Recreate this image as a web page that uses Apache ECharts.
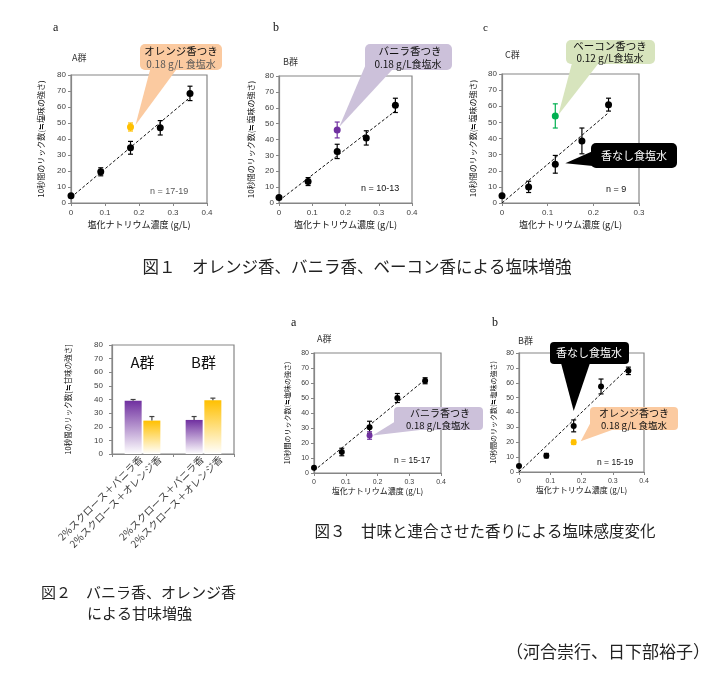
<!DOCTYPE html>
<html><head><meta charset="utf-8">
<script src="https://cdn.jsdelivr.net/npm/echarts@6/dist/echarts.min.js"></script>
<style>html,body{margin:0;padding:0;background:#fff}#c{width:728px;height:675px}</style>
</head><body><div id="c"></div>
<script>
// ---------- data ----------
const saltX   = [0, 0.0875, 0.175, 0.2625, 0.35];
const saltXC  = [0, 0.0583, 0.1167, 0.175, 0.2333];
// Fig1 a (A群)
const f1aY = [4.5, 19.5, 34.5, 47, 68.5];
const f1aErr = [0, 2.5, 4, 4.5, 4.5];
const f1aOrange = [0.175, 47.5]; const f1aOrangeErr = 2.5;
const f1aTrend = [[0, 3.5], [0.35, 66]];
// Fig1 b (B群)
const f1bY = [3.5, 13.5, 32.5, 41, 61.5];
const f1bErr = [0, 2.5, 4.5, 4.5, 4.5];
const f1bVanilla = [0.175, 46]; const f1bVanillaErr = 5;
const f1bTrend = [[0, 1.5], [0.35, 58]];
// Fig1 c (C群)
const f1cY = [4.5, 10, 24, 38.5, 61];
const f1cErr = [0, 3.5, 5.5, 8, 4];
const f1cBacon = [0.1167, 54]; const f1cBaconErr = 7.5;
const f1cTrend = [[0, 0], [0.2333, 56]];
// Fig2
const fig2Groups = ['A群', 'B群'];
const fig2SeriesNames = ['2%スクロース＋バニラ香', '2%スクロース＋オレンジ香'];
const fig2Vanilla = [39, 25];   const fig2VanillaErr = [1, 2.5];
const fig2Orange  = [24.5, 39.5]; const fig2OrangeErr = [3, 1.5];
// Fig3 a (A群)
const f3aY = [3.5, 14, 30.5, 50, 61.5];
const f3aErr = [0, 2.5, 4, 3, 2];
const f3aVanilla = [0.175, 25]; const f3aVanillaErr = 2.5;
const f3aTrend = [[0, 1.5], [0.35, 62.3]];
// Fig3 b (B群)
const f3bY = [4, 11, 31, 57.5, 68];
const f3bErr = [0, 1.5, 4, 5, 2.5];
const f3bOrange = [0.175, 20]; const f3bOrangeErr = 1.5;
const f3bTrend = [[0, 0], [0.35, 70]];

// ---------- helpers ----------
const FONT = '"Noto Sans CJK JP", "Liberation Sans", sans-serif';
const NUMFONT = '"Liberation Sans", Arial, sans-serif';
const chart = echarts.init(document.getElementById('c'));

function pairs(xs, ys) { return xs.map((x, i) => [x, ys[i]]); }
function errData(xs, ys, es) {
  const out = [];
  xs.forEach((x, i) => { if (es[i] > 0) out.push([x, ys[i] - es[i], ys[i] + es[i]]); });
  return out;
}
function errSeries(g, data, color) {
  return {
    type: 'custom', xAxisIndex: g, yAxisIndex: g, z: 3, data: data,
    renderItem: function (params, api) {
      const x = api.value(0);
      const hi = api.coord([x, api.value(2)]);
      const lo = api.coord([x, api.value(1)]);
      const w = 2.5;
      const st = { stroke: color, lineWidth: 1.2 };
      return { type: 'group', children: [
        { type: 'line', shape: { x1: hi[0], y1: hi[1], x2: lo[0], y2: lo[1] }, style: st },
        { type: 'line', shape: { x1: hi[0] - w, y1: hi[1], x2: hi[0] + w, y2: hi[1] }, style: st },
        { type: 'line', shape: { x1: lo[0] - w, y1: lo[1], x2: lo[0] + w, y2: lo[1] }, style: st }
      ]};
    }
  };
}
function xAxisVal(g, max, fs, gap, nfs) {
  return {
    type: 'value', gridIndex: g, min: 0, max: max, interval: 0.1,
    name: '塩化ナトリウム濃度 (g/L)', nameLocation: 'middle', nameGap: gap,
    nameTextStyle: { fontSize: nfs, color: '#111', fontFamily: FONT },
    axisLine: { lineStyle: { color: '#868686', width: 1.2 } },
    axisTick: { show: true, length: 3, lineStyle: { color: '#868686' } },
    axisLabel: { fontSize: fs, color: '#404040', fontFamily: NUMFONT, margin: 6 },
    splitLine: { show: false }
  };
}
function yAxisVal(g, fs, gap, nfs, name) {
  return {
    type: 'value', gridIndex: g, min: 0, max: 80, interval: 10,
    name: name, nameLocation: 'middle', nameGap: gap, nameRotate: 90,
    nameTextStyle: { fontSize: nfs, color: '#111', fontFamily: FONT },
    axisLine: { show: true, lineStyle: { color: '#868686', width: 1.2 } },
    axisTick: { show: true, length: 3, lineStyle: { color: '#868686' } },
    axisLabel: { fontSize: fs, color: '#404040', fontFamily: NUMFONT, margin: 5 },
    splitLine: { show: false }
  };
}
function scatter(g, data, color, size) {
  return { type: 'scatter', xAxisIndex: g, yAxisIndex: g, data: data, symbolSize: size,
    itemStyle: { color: color, opacity: 1 }, z: 4, silent: true };
}
function trend(g, data) {
  return { type: 'line', xAxisIndex: g, yAxisIndex: g, data: data, symbol: 'none', z: 2,
    lineStyle: { color: '#111', width: 1, type: [3, 2] }, silent: true };
}
const gridStyle = { show: true, borderColor: '#868686', borderWidth: 1.2, backgroundColor: '#fff' };

const SALT_NAME = '10秒間のリック数(≒塩味の強さ)';
const SWEET_NAME = '10秒間のリック数[≒甘味の強さ]';
const gradPurple = new echarts.graphic.LinearGradient(0, 0, 0, 1, [
  { offset: 0, color: '#7030a0' }, { offset: 1, color: '#ffffff' }]);
const gradOrange = new echarts.graphic.LinearGradient(0, 0, 0, 1, [
  { offset: 0, color: '#ffc000' }, { offset: 1, color: '#ffffff' }]);

const BAR_W = 17, BAR_OFF = 9.4;
function barErr(data, errs, off) {
  return {
    type: 'custom', xAxisIndex: 3, yAxisIndex: 3, z: 5,
    data: data.map((v, i) => [i, v, v + errs[i]]),
    renderItem: function (params, api) {
      const top = api.coord([api.value(0), api.value(2)]);
      const bot = api.coord([api.value(0), api.value(1)]);
      const x = top[0] + off, w = 2.5;
      const st = { stroke: '#404040', lineWidth: 1.2 };
      return { type: 'group', children: [
        { type: 'line', shape: { x1: x, y1: top[1], x2: x, y2: bot[1] }, style: st },
        { type: 'line', shape: { x1: x - w, y1: top[1], x2: x + w, y2: top[1] }, style: st }
      ]};
    }
  };
}
const barLabel = {
  show: true, position: ['50%', '100%'], rotate: 45, align: 'right', verticalAlign: 'middle',
  offset: [3, 8], formatter: p => p.seriesName, fontSize: 10, color: '#404040', fontFamily: FONT
};

const option = {
  animation: false,
  textStyle: { fontFamily: FONT },
  grid: [
    Object.assign({ left: 71, top: 75, width: 136, height: 128 }, gridStyle),
    Object.assign({ left: 279, top: 76, width: 133, height: 127 }, gridStyle),
    Object.assign({ left: 502, top: 74, width: 137, height: 129 }, gridStyle),
    Object.assign({ left: 112, top: 345, width: 122, height: 109 }, gridStyle),
    Object.assign({ left: 314, top: 353, width: 127, height: 120 }, gridStyle),
    Object.assign({ left: 519, top: 353, width: 125, height: 119 }, gridStyle)
  ],
  xAxis: [
    xAxisVal(0, 0.4, 8, 17, 9),
    xAxisVal(1, 0.4, 8, 17, 9),
    xAxisVal(2, 0.3, 8, 17, 9),
    { type: 'category', gridIndex: 3, data: fig2Groups,
      axisLine: { lineStyle: { color: '#868686', width: 1.2 } },
      axisTick: { show: true, length: 3, lineStyle: { color: '#868686' } },
      axisLabel: { show: false } },
    xAxisVal(4, 0.4, 7, 12, 8),
    xAxisVal(5, 0.4, 7, 12, 8),
    { type: 'category', gridIndex: 3, position: 'top', data: fig2Groups,
      axisLine: { show: false }, axisTick: { show: false },
      axisLabel: { inside: true, margin: 10, fontSize: 15, color: '#111', fontFamily: FONT } }
  ],
  yAxis: [
    yAxisVal(0, 8, 26, 8, SALT_NAME),
    yAxisVal(1, 8, 24, 8, SALT_NAME),
    yAxisVal(2, 8, 25, 8, SALT_NAME),
    Object.assign(yAxisVal(3, 8, 40, 7.5, SWEET_NAME), { axisLabel: { fontSize: 8, color: '#404040', fontFamily: NUMFONT, margin: 9 } }),
    yAxisVal(4, 7, 23, 7, SALT_NAME),
    yAxisVal(5, 7, 22, 7, SALT_NAME)
  ],
  series: [
    // Fig1a
    trend(0, f1aTrend),
    errSeries(0, errData(saltX, f1aY, f1aErr), '#000'),
    scatter(0, pairs(saltX, f1aY), '#000', 7),
    errSeries(0, [[f1aOrange[0], f1aOrange[1] - f1aOrangeErr, f1aOrange[1] + f1aOrangeErr]], '#ffc000'),
    scatter(0, [f1aOrange], '#ffc000', 7),
    // Fig1b
    trend(1, f1bTrend),
    errSeries(1, errData(saltX, f1bY, f1bErr), '#000'),
    scatter(1, pairs(saltX, f1bY), '#000', 7),
    errSeries(1, [[f1bVanilla[0], f1bVanilla[1] - f1bVanillaErr, f1bVanilla[1] + f1bVanillaErr]], '#7030a0'),
    scatter(1, [f1bVanilla], '#7030a0', 7),
    // Fig1c
    trend(2, f1cTrend),
    errSeries(2, errData(saltXC, f1cY, f1cErr), '#000'),
    scatter(2, pairs(saltXC, f1cY), '#000', 7),
    errSeries(2, [[f1cBacon[0], f1cBacon[1] - f1cBaconErr, f1cBacon[1] + f1cBaconErr]], '#00b050'),
    scatter(2, [f1cBacon], '#00b050', 7),
    // Fig2
    { type: 'bar', name: fig2SeriesNames[0], xAxisIndex: 3, yAxisIndex: 3, data: fig2Vanilla,
      barWidth: BAR_W, barGap: '10%', itemStyle: { color: gradPurple }, label: barLabel, silent: true },
    { type: 'bar', name: fig2SeriesNames[1], xAxisIndex: 3, yAxisIndex: 3, data: fig2Orange,
      barWidth: BAR_W, barGap: '10%', itemStyle: { color: gradOrange }, label: barLabel, silent: true },
    barErr(fig2Vanilla, fig2VanillaErr, -BAR_OFF),
    barErr(fig2Orange, fig2OrangeErr, BAR_OFF),
    // Fig3a
    trend(4, f3aTrend),
    errSeries(4, errData(saltX, f3aY, f3aErr), '#000'),
    scatter(4, pairs(saltX, f3aY), '#000', 6),
    errSeries(4, [[f3aVanilla[0], f3aVanilla[1] - f3aVanillaErr, f3aVanilla[1] + f3aVanillaErr]], '#7030a0'),
    scatter(4, [f3aVanilla], '#7030a0', 6),
    // Fig3b
    trend(5, f3bTrend),
    errSeries(5, errData(saltX, f3bY, f3bErr), '#000'),
    scatter(5, pairs(saltX, f3bY), '#000', 6),
    errSeries(5, [[f3bOrange[0], f3bOrange[1] - f3bOrangeErr, f3bOrange[1] + f3bOrangeErr]], '#ffc000'),
    scatter(5, [f3bOrange], '#ffc000', 6)
  ]
};
chart.setOption(option);

// ---------- annotations ----------
function tipOf(g, pt, off) {
  const p = chart.convertToPixel({ gridIndex: g }, pt);
  return [p[0] + off[0], p[1] + off[1]];
}
function callout(rect, base, tip, fill, lines, r) {
  const els = [
    { type: 'polygon', z: 100, silent: true, shape: { points: [base[0], base[1], tip] }, style: { fill: fill } },
    { type: 'rect', z: 100, silent: true, shape: { x: rect[0], y: rect[1], width: rect[2], height: rect[3], r: r }, style: { fill: fill } }
  ];
  lines.forEach(l => els.push({ type: 'text', z: 101, silent: true, x: l.x, y: l.y,
    style: { text: l.t, fill: l.c, fontSize: l.s, fontFamily: FONT, align: 'center', verticalAlign: 'middle' } }));
  return els;
}
function txt(t, x, y, size, color, extra) {
  return Object.assign({ type: 'text', z: 101, silent: true, x: x, y: y,
    style: Object.assign({ text: t, fill: color, fontSize: size, fontFamily: FONT, align: 'left', verticalAlign: 'middle' }, extra || {}) });
}
const SERIF = '"Liberation Serif", "DejaVu Serif", serif';
let g = [];
// panel letters and group titles
g.push(txt('a', 53, 28, 12, '#111', { fontFamily: SERIF }));
g.push(txt('b', 273, 28, 12, '#111', { fontFamily: SERIF }));
g.push(txt('c', 483, 28, 11, '#111', { fontFamily: SERIF }));
g.push(txt('a', 291, 323, 12, '#111', { fontFamily: SERIF }));
g.push(txt('b', 492, 323, 12, '#111', { fontFamily: SERIF }));
g.push(txt('A群', 72, 58, 9, '#333'));
g.push(txt('B群', 283, 62, 9, '#333'));
g.push(txt('C群', 505, 55, 9, '#333'));
g.push(txt('A群', 317, 339, 9, '#333'));
g.push(txt('B群', 518, 341, 9, '#333'));
// n labels
g.push(txt('n = 17-19', 150, 192, 9, '#595959', { fontFamily: NUMFONT }));
g.push(txt('n = 10-13', 361, 189, 9, '#111', { fontFamily: NUMFONT }));
g.push(txt('n = 9', 606, 190, 9, '#111', { fontFamily: NUMFONT }));
g.push(txt('n = 15-17', 394, 461, 8.5, '#111', { fontFamily: NUMFONT }));
g.push(txt('n = 15-19', 597, 463, 8.5, '#111', { fontFamily: NUMFONT }));
// callouts
g = g.concat(callout([140, 44, 82, 26], [[150, 70], [176, 70]], tipOf(0, f1aOrange, [5, -2]), '#fbcaa0',
  [{ t: 'オレンジ香つき', x: 181, y: 51.5, s: 10.5, c: '#111' }, { t: '0.18 g/L 食塩水', x: 181, y: 64.5, s: 10, c: '#555' }], 5));
g = g.concat(callout([365, 44, 87, 26], [[366, 64], [392, 70]], tipOf(1, f1bVanilla, [2, -3]), '#ccc1da',
  [{ t: 'バニラ香つき', x: 410, y: 51.5, s: 10.5, c: '#111' }, { t: '0.18 g/L食塩水', x: 408, y: 64.5, s: 10, c: '#111' }], 5));
g = g.concat(callout([566, 40, 89, 24], [[572, 63], [598, 64]], tipOf(2, f1cBacon, [3, -1]), '#d7e4bd',
  [{ t: 'ベーコン香つき', x: 610, y: 46.5, s: 10.5, c: '#111' }, { t: '0.12 g/L食塩水', x: 610, y: 58.5, s: 10, c: '#111' }], 5));
g = g.concat(callout([591, 143, 86, 25], [[593, 151], [593, 166]], tipOf(2, [f1cBacon[0], f1cY[2]], [10, -1]), '#000',
  [{ t: '香なし食塩水', x: 634, y: 155.5, s: 11, c: '#fff' }], 5));
g = g.concat(callout([394, 407, 89, 23], [[396, 421], [420, 430]], tipOf(4, f3aVanilla, [3, 0]), '#ccc1da',
  [{ t: 'バニラ香つき', x: 440, y: 413.5, s: 10, c: '#111' }, { t: '0.18 g/L食塩水', x: 438, y: 425, s: 9.5, c: '#111' }], 4));
g = g.concat(callout([550, 342, 79, 22], [[561, 363], [590, 363]], tipOf(5, [f3bOrange[0], f3bY[2]], [0, -15]), '#000',
  [{ t: '香なし食塩水', x: 589, y: 353, s: 11, c: '#fff' }], 4));
g = g.concat(callout([590, 407, 88, 23], [[592, 420], [612, 430]], tipOf(5, f3bOrange, [7, -1]), '#fbcaa0',
  [{ t: 'オレンジ香つき', x: 634, y: 413.5, s: 10, c: '#111' }, { t: '0.18 g/L 食塩水', x: 634, y: 425, s: 9.5, c: '#111' }], 4));
// captions
g.push(txt('図１　オレンジ香、バニラ香、ベーコン香による塩味増強', 357, 267, 16.5, '#222', { align: 'center' }));
g.push(txt('図３　甘味と連合させた香りによる塩味感度変化', 485, 531, 15.5, '#222', { align: 'center' }));
g.push(txt('図２　バニラ香、オレンジ香', 41, 592, 15, '#222'));
g.push(txt('による甘味増強', 87, 613, 15, '#222'));
g.push(txt('（河合崇行、日下部裕子）', 710, 652, 17, '#222', { align: 'right' }));

chart.setOption({ graphic: g });
</script>
</body></html>
